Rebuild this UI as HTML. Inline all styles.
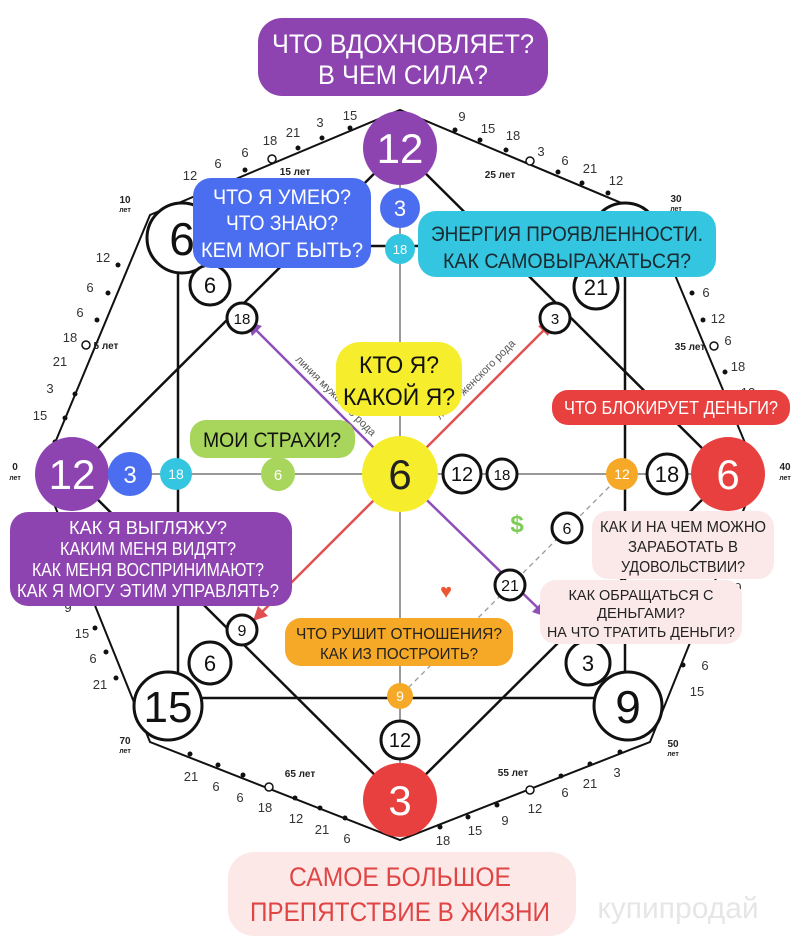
<!DOCTYPE html>
<html><head><meta charset="utf-8"><style>
html,body{margin:0;padding:0;background:#fff;}
svg{display:block;font-family:"Liberation Sans","DejaVu Sans",sans-serif;}
.n{font-size:13px;fill:#333;text-anchor:middle}
.a{font-size:10px;font-weight:bold;fill:#222;text-anchor:middle}
.t{text-anchor:middle}
</style></head><body>
<svg width="800" height="951" viewBox="0 0 800 951" xmlns="http://www.w3.org/2000/svg">
<rect width="800" height="951" fill="#fff"/>
<polygon points="42,474 150,215 400,110 650,215 758,474 650,742 400,840 150,742" fill="none" stroke="#111" stroke-width="2"/>
<rect x="178" y="246" width="447" height="452" fill="none" stroke="#111" stroke-width="2.5"/>
<polygon points="400,148 72,474 400,800 728,474" fill="none" stroke="#111" stroke-width="2.5"/>
<line x1="400" y1="148" x2="400" y2="800" stroke="#333" stroke-width="1"/>
<line x1="72" y1="474" x2="728" y2="474" stroke="#333" stroke-width="1"/>
<line x1="400" y1="474" x2="252" y2="326" stroke="#8e4fb8" stroke-width="2.5"/>
<polygon points="247,321 262,326 252,336" fill="#8e4fb8"/>
<line x1="400" y1="474" x2="542" y2="612" stroke="#8e4fb8" stroke-width="2.5"/>
<polygon points="547,617 532,612 542,602" fill="#8e4fb8"/>
<line x1="400" y1="474" x2="548" y2="326" stroke="#e05050" stroke-width="2.5"/>
<polygon points="553,321 548,336 538,326" fill="#e05050"/>
<line x1="400" y1="474" x2="258" y2="616" stroke="#e05050" stroke-width="2.5"/>
<polygon points="253,621 258,606 268,616" fill="#e05050"/>
<line x1="622" y1="474" x2="400" y2="696" stroke="#999" stroke-width="1.3" stroke-dasharray="5,4"/>
<text x="295" y="360" font-size="11" fill="#555" transform="rotate(45 295 360)">линия мужского рода</text>
<text x="440" y="420" font-size="11" fill="#555" transform="rotate(-45 440 420)">линия женского рода</text>

<g fill="#111">
<circle cx="55" cy="442" r="2.5"/><circle cx="65" cy="418" r="2.5"/><circle cx="75" cy="394" r="2.5"/><circle cx="97" cy="320" r="2.5"/><circle cx="108" cy="293" r="2.5"/><circle cx="118" cy="265" r="2.5"/>
<circle cx="245" cy="170" r="2.5"/><circle cx="298" cy="148" r="2.5"/><circle cx="322" cy="138" r="2.5"/><circle cx="350" cy="128" r="2.5"/>
<circle cx="455" cy="130" r="2.5"/><circle cx="480" cy="140" r="2.5"/><circle cx="506" cy="150" r="2.5"/><circle cx="558" cy="172" r="2.5"/><circle cx="582" cy="183" r="2.5"/><circle cx="608" cy="193" r="2.5"/>
<circle cx="692" cy="293" r="2.5"/><circle cx="703" cy="320" r="2.5"/><circle cx="725" cy="372" r="2.5"/><circle cx="746" cy="420" r="2.5"/>
<circle cx="693" cy="640" r="2.5"/><circle cx="683" cy="665" r="2.5"/>
<circle cx="620" cy="752" r="2.5"/><circle cx="590" cy="764" r="2.5"/><circle cx="561" cy="776" r="2.5"/><circle cx="497" cy="805" r="2.5"/><circle cx="468" cy="817" r="2.5"/><circle cx="440" cy="827" r="2.5"/>
<circle cx="345" cy="818" r="2.5"/><circle cx="320" cy="808" r="2.5"/><circle cx="295" cy="798" r="2.5"/><circle cx="243" cy="775" r="2.5"/><circle cx="218" cy="765" r="2.5"/><circle cx="190" cy="754" r="2.5"/>
<circle cx="52" cy="522" r="2.5"/><circle cx="95" cy="628" r="2.5"/><circle cx="106" cy="652" r="2.5"/><circle cx="116" cy="678" r="2.5"/>
</g>
<g fill="#fff" stroke="#111" stroke-width="1.5">
<circle cx="86" cy="345" r="4"/><circle cx="272" cy="159" r="4"/><circle cx="530" cy="161" r="4"/><circle cx="714" cy="346" r="4"/><circle cx="530" cy="790" r="4"/><circle cx="269" cy="787" r="4"/>
</g>
<g class="n">
<text x="40" y="420">15</text><text x="50" y="393">3</text><text x="60" y="366">21</text><text x="70" y="342">18</text><text x="80" y="317">6</text><text x="90" y="292">6</text><text x="103" y="262">12</text>
<text x="190" y="180">12</text><text x="218" y="168">6</text><text x="245" y="157">6</text><text x="270" y="145">18</text><text x="293" y="137">21</text><text x="320" y="127">3</text><text x="350" y="120">15</text>
<text x="462" y="121">9</text><text x="488" y="133">15</text><text x="513" y="140">18</text><text x="541" y="156">3</text><text x="565" y="165">6</text><text x="590" y="173">21</text><text x="616" y="185">12</text>
<text x="706" y="297">6</text><text x="718" y="323">12</text><text x="728" y="345">6</text><text x="738" y="371">18</text><text x="748" y="397">12</text>
<text x="738" y="592">9</text><text x="728" y="617">15</text><text x="705" y="670">6</text><text x="697" y="696">15</text>
<text x="617" y="777">3</text><text x="590" y="788">21</text><text x="565" y="797">6</text><text x="535" y="813">12</text><text x="505" y="825">9</text><text x="475" y="835">15</text><text x="443" y="845">18</text>
<text x="347" y="843">6</text><text x="322" y="834">21</text><text x="296" y="823">12</text><text x="265" y="812">18</text><text x="240" y="802">6</text><text x="216" y="791">6</text><text x="191" y="781">21</text>
<text x="38" y="535">6</text><text x="68" y="612">9</text><text x="82" y="638">15</text><text x="93" y="663">6</text><text x="100" y="689">21</text>
</g>
<g class="a">
<text x="15" y="470">0</text><text x="15" y="480" font-size="7">лет</text>
<text x="125" y="203">10</text><text x="125" y="212" font-size="7">лет</text>
<text x="106" y="349">5 лет</text><text x="295" y="175">15 лет</text><text x="500" y="178">25 лет</text>
<text x="676" y="202">30</text><text x="676" y="211" font-size="7">лет</text>
<text x="690" y="350">35 лет</text>
<text x="785" y="470">40</text><text x="785" y="480" font-size="7">лет</text>
<text x="673" y="747">50</text><text x="673" y="756" font-size="7">лет</text>
<text x="513" y="776">55 лет</text><text x="300" y="777">65 лет</text>
<text x="125" y="744">70</text><text x="125" y="753" font-size="7">лет</text>
</g>

<g fill="#fff" stroke="#111" stroke-width="3">
<circle cx="182" cy="238" r="35"/><circle cx="625" cy="238" r="35"/><circle cx="168" cy="706" r="34"/><circle cx="628" cy="706" r="34"/>
<circle cx="210" cy="285" r="20"/><circle cx="242" cy="318" r="15"/><circle cx="555" cy="318" r="15"/><circle cx="596" cy="287" r="22"/>
<circle cx="242" cy="630" r="15"/><circle cx="210" cy="663" r="21"/><circle cx="567" cy="528" r="15"/><circle cx="510" cy="585" r="15"/><circle cx="588" cy="663" r="22"/>
<circle cx="400" cy="740" r="19"/><circle cx="462" cy="474" r="19"/><circle cx="502" cy="474" r="15"/><circle cx="667" cy="474" r="20"/>
</g>
<g text-anchor="middle" fill="#111">
<text x="182" y="255" font-size="46">6</text><text x="625" y="255" font-size="46">21</text><text x="168" y="722" font-size="44">15</text><text x="628" y="723" font-size="46">9</text>
<text x="210" y="293" font-size="22">6</text><text x="242" y="324" font-size="15">18</text><text x="555" y="324" font-size="15">3</text><text x="596" y="295" font-size="22">21</text>
<text x="242" y="636" font-size="16">9</text><text x="210" y="671" font-size="22">6</text><text x="567" y="534" font-size="16">6</text><text x="510" y="591" font-size="16">21</text><text x="588" y="671" font-size="22">3</text>
<text x="400" y="747" font-size="20">12</text><text x="462" y="481" font-size="20">12</text><text x="502" y="480" font-size="15">18</text><text x="667" y="482" font-size="22">18</text>
</g>
<circle cx="400" cy="148" r="37" fill="#8e44b0"/><text x="400" y="163" class="t" font-size="42" fill="#fff">12</text>
<circle cx="72" cy="474" r="37" fill="#8e44b0"/><text x="72" y="489" class="t" font-size="42" fill="#fff">12</text>
<circle cx="400" cy="800" r="37" fill="#e8403e"/><text x="400" y="815" class="t" font-size="42" fill="#fff">3</text>
<circle cx="728" cy="474" r="37" fill="#e8403e"/><text x="728" y="489" class="t" font-size="42" fill="#fff">6</text>
<circle cx="400" cy="474" r="38" fill="#f6ee2c"/><text x="400" y="489" class="t" font-size="42" fill="#222">6</text>
<circle cx="400" cy="208" r="20" fill="#4b6ef0"/><text x="400" y="216" class="t" font-size="22" fill="#fff">3</text>
<circle cx="400" cy="249" r="15" fill="#34c6e0"/><text x="400" y="254" class="t" font-size="13" fill="#fff">18</text>
<circle cx="130" cy="474" r="22" fill="#4b6ef0"/><text x="130" y="483" class="t" font-size="24" fill="#fff">3</text>
<circle cx="176" cy="474" r="16" fill="#34c6e0"/><text x="176" y="479" class="t" font-size="14" fill="#fff">18</text>
<circle cx="278" cy="474" r="17" fill="#a8d65c"/><text x="278" y="480" class="t" font-size="15" fill="#fff">6</text>
<circle cx="622" cy="474" r="16" fill="#f5a927"/><text x="622" y="479" class="t" font-size="14" fill="#fff">12</text>
<circle cx="400" cy="696" r="13" fill="#f5a927"/><text x="400" y="701" class="t" font-size="14" fill="#fff">9</text>
<text x="517" y="532" class="t" font-size="24" fill="#7ccc55" font-weight="bold">$</text>
<text x="446" y="598" class="t" font-size="20" fill="#e53">♥</text>

<rect x="258" y="18" width="290" height="78" rx="24" fill="#8e44b0"/>
<g class="t" fill="#fff" font-size="27"><text x="403" y="53" textLength="262" lengthAdjust="spacingAndGlyphs">ЧТО ВДОХНОВЛЯЕТ?</text><text x="403" y="84" textLength="170" lengthAdjust="spacingAndGlyphs">В ЧЕМ СИЛА?</text></g>

<rect x="193" y="178" width="178" height="90" rx="18" fill="#4b6ef0"/>
<g class="t" fill="#fff" font-size="21"><text x="282" y="204" textLength="138" lengthAdjust="spacingAndGlyphs">ЧТО Я УМЕЮ?</text><text x="282" y="230" textLength="112" lengthAdjust="spacingAndGlyphs">ЧТО ЗНАЮ?</text><text x="282" y="257" textLength="162" lengthAdjust="spacingAndGlyphs">КЕМ МОГ БЫТЬ?</text></g>

<rect x="418" y="211" width="298" height="66" rx="18" fill="#34c6e0"/>
<g class="t" fill="#1a2a30" font-size="21"><text x="567" y="241" textLength="272" lengthAdjust="spacingAndGlyphs">ЭНЕРГИЯ ПРОЯВЛЕННОСТИ.</text><text x="567" y="268" textLength="248" lengthAdjust="spacingAndGlyphs">КАК САМОВЫРАЖАТЬСЯ?</text></g>

<rect x="336" y="342" width="126" height="74" rx="24" fill="#f6ee2c"/>
<g class="t" fill="#111" font-size="24"><text x="399" y="373" textLength="80" lengthAdjust="spacingAndGlyphs">КТО Я?</text><text x="399" y="405" textLength="112" lengthAdjust="spacingAndGlyphs">КАКОЙ Я?</text></g>

<rect x="190" y="420" width="165" height="38" rx="16" fill="#a8d65c"/>
<text x="272" y="447" class="t" fill="#111" font-size="21" textLength="138" lengthAdjust="spacingAndGlyphs">МОИ СТРАХИ?</text>

<rect x="552" y="390" width="238" height="35" rx="16" fill="#e8403e"/>
<text x="671" y="414" class="t" fill="#fff" font-size="18" textLength="214" lengthAdjust="spacingAndGlyphs">ЧТО БЛОКИРУЕТ ДЕНЬГИ?</text>

<rect x="10" y="512" width="282" height="94" rx="18" fill="#8e44b0"/>
<g class="t" fill="#fff" font-size="18"><text x="148" y="534" textLength="158" lengthAdjust="spacingAndGlyphs">КАК Я ВЫГЛЯЖУ?</text><text x="148" y="555" textLength="176" lengthAdjust="spacingAndGlyphs">КАКИМ МЕНЯ ВИДЯТ?</text><text x="148" y="576" textLength="232" lengthAdjust="spacingAndGlyphs">КАК МЕНЯ ВОСПРИНИМАЮТ?</text><text x="148" y="597" textLength="262" lengthAdjust="spacingAndGlyphs">КАК Я МОГУ ЭТИМ УПРАВЛЯТЬ?</text></g>

<rect x="592" y="511" width="182" height="68" rx="16" fill="#fbe9ea"/>
<g class="t" fill="#222" font-size="16"><text x="683" y="532" textLength="166" lengthAdjust="spacingAndGlyphs">КАК И НА ЧЕМ МОЖНО</text><text x="683" y="552" textLength="110" lengthAdjust="spacingAndGlyphs">ЗАРАБОТАТЬ В</text><text x="683" y="572" textLength="124" lengthAdjust="spacingAndGlyphs">УДОВОЛЬСТВИИ?</text></g>
<rect x="540" y="580" width="202" height="64" rx="16" fill="#fbe9ea"/>
<g class="t" fill="#222" font-size="15"><text x="641" y="600" textLength="145" lengthAdjust="spacingAndGlyphs">КАК ОБРАЩАТЬСЯ С</text><text x="641" y="618" textLength="88" lengthAdjust="spacingAndGlyphs">ДЕНЬГАМИ?</text><text x="641" y="637" textLength="188" lengthAdjust="spacingAndGlyphs">НА ЧТО ТРАТИТЬ ДЕНЬГИ?</text></g>

<rect x="285" y="618" width="228" height="48" rx="16" fill="#f5a927"/>
<g class="t" fill="#222" font-size="16"><text x="399" y="639" textLength="206" lengthAdjust="spacingAndGlyphs">ЧТО РУШИТ ОТНОШЕНИЯ?</text><text x="399" y="659" textLength="158" lengthAdjust="spacingAndGlyphs">КАК ИЗ ПОСТРОИТЬ?</text></g>

<rect x="228" y="852" width="348" height="84" rx="26" fill="#fde8e8"/>
<g class="t" fill="#e04545" font-size="27"><text x="400" y="886" textLength="222" lengthAdjust="spacingAndGlyphs">САМОЕ БОЛЬШОЕ</text><text x="400" y="921" textLength="300" lengthAdjust="spacingAndGlyphs">ПРЕПЯТСТВИЕ В ЖИЗНИ</text></g>
<text x="678" y="918" class="t" font-size="30" fill="#e6e6e6">купипродай</text>
</svg>
</body></html>
